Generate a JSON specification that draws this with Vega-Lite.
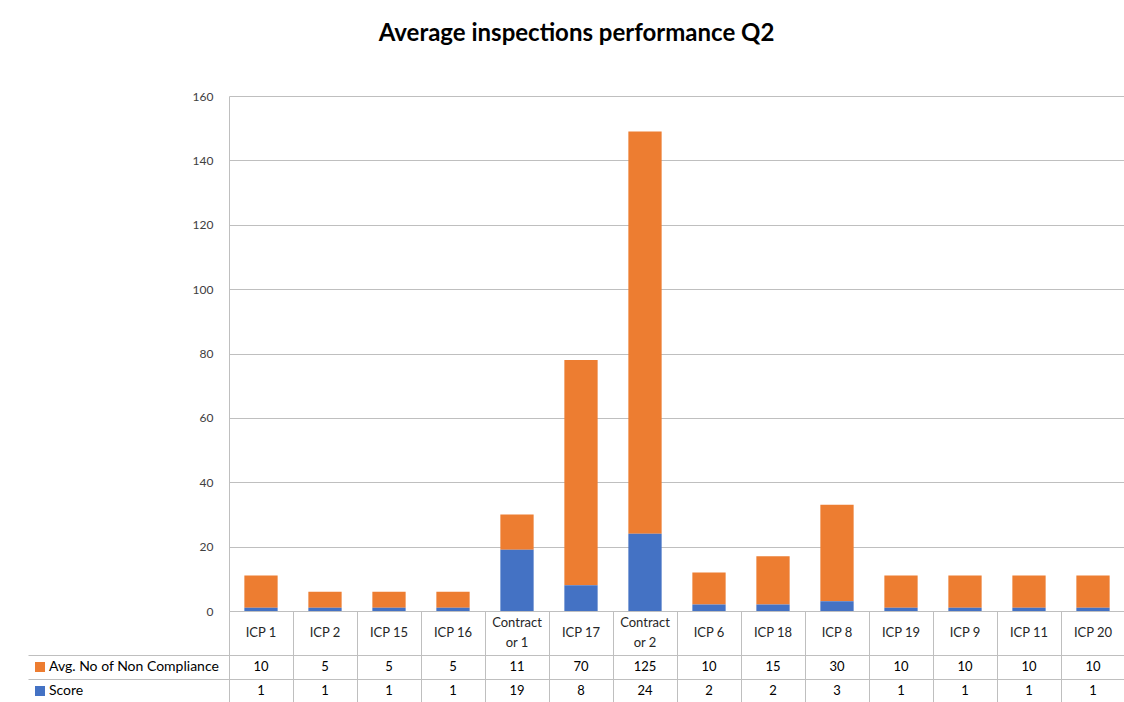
{
 "$schema": "https://vega.github.io/schema/vega-lite/v6.json",
 "padding": {"left": 27, "top": 22, "right": 0, "bottom": 0},
 "background": "white",
 "title": {"text": "Average inspections performance Q2", "fontSize": 24, "font": "Lato", "fontWeight": "bold", "color": "#000000", "anchor": "middle", "frame": "bounds", "offset": 44},
 "config": {"font": "Lato", "view": {"stroke": null}},
 "data": {"values": [
  {"cat": "ICP 1", "series": "Avg. No of Non Compliance", "value": 10},
  {"cat": "ICP 2", "series": "Avg. No of Non Compliance", "value": 5},
  {"cat": "ICP 15", "series": "Avg. No of Non Compliance", "value": 5},
  {"cat": "ICP 16", "series": "Avg. No of Non Compliance", "value": 5},
  {"cat": "Contractor 1", "series": "Avg. No of Non Compliance", "value": 11},
  {"cat": "ICP 17", "series": "Avg. No of Non Compliance", "value": 70},
  {"cat": "Contractor 2", "series": "Avg. No of Non Compliance", "value": 125},
  {"cat": "ICP 6", "series": "Avg. No of Non Compliance", "value": 10},
  {"cat": "ICP 18", "series": "Avg. No of Non Compliance", "value": 15},
  {"cat": "ICP 8", "series": "Avg. No of Non Compliance", "value": 30},
  {"cat": "ICP 19", "series": "Avg. No of Non Compliance", "value": 10},
  {"cat": "ICP 9", "series": "Avg. No of Non Compliance", "value": 10},
  {"cat": "ICP 11", "series": "Avg. No of Non Compliance", "value": 10},
  {"cat": "ICP 20", "series": "Avg. No of Non Compliance", "value": 10},
  {"cat": "ICP 1", "series": "Score", "value": 1},
  {"cat": "ICP 2", "series": "Score", "value": 1},
  {"cat": "ICP 15", "series": "Score", "value": 1},
  {"cat": "ICP 16", "series": "Score", "value": 1},
  {"cat": "Contractor 1", "series": "Score", "value": 19},
  {"cat": "ICP 17", "series": "Score", "value": 8},
  {"cat": "Contractor 2", "series": "Score", "value": 24},
  {"cat": "ICP 6", "series": "Score", "value": 2},
  {"cat": "ICP 18", "series": "Score", "value": 2},
  {"cat": "ICP 8", "series": "Score", "value": 3},
  {"cat": "ICP 19", "series": "Score", "value": 1},
  {"cat": "ICP 9", "series": "Score", "value": 1},
  {"cat": "ICP 11", "series": "Score", "value": 1},
  {"cat": "ICP 20", "series": "Score", "value": 1}
 ]},
 "width": 896,
 "height": 515,
 "encoding": {
  "x": {"field": "cat", "type": "nominal",
   "sort": ["ICP 1", "ICP 2", "ICP 15", "ICP 16", "Contractor 1", "ICP 17", "Contractor 2", "ICP 6", "ICP 18", "ICP 8", "ICP 19", "ICP 9", "ICP 11", "ICP 20"],
   "scale": {"paddingInner": 0, "paddingOuter": 0},
   "axis": {"title": null, "labels": false, "tickBand": "extent", "tickSize": 92, "tickColor": "#bfbfbf", "domainColor": "#bfbfbf"}}
 },
 "layer": [
  {
   "mark": {"type": "bar", "width": {"band": 0.52}},
   "encoding": {
    "y": {"field": "value", "type": "quantitative",
     "scale": {"domain": [0, 160], "nice": false},
     "axis": {"title": null, "values": [0, 20, 40, 60, 80, 100, 120, 140, 160], "grid": true, "gridColor": "#bfbfbf", "ticks": false, "domainColor": "#bfbfbf", "labelPadding": 16, "labelFontSize": 12, "labelColor": "#404040"}},
    "color": {"field": "series", "type": "nominal",
     "scale": {"domain": ["Avg. No of Non Compliance", "Score"], "range": ["#ED7D31", "#4472C4"]},
     "legend": {"orient": "none", "legendX": -201, "legendY": 559, "title": null, "symbolType": "square", "symbolSize": 100, "symbolStrokeWidth": 0, "labelFontSize": 14, "labelColor": "#000000", "rowPadding": 10, "padding": 5, "labelOffset": 2, "labelLimit": 0}}
   }
  },
  {
   "mark": {"type": "text", "fontSize": 13, "color": "#000000"},
   "encoding": {
    "y": {"field": "series", "type": "nominal", "sort": ["Avg. No of Non Compliance", "Score"],
     "scale": {"paddingInner": 0, "paddingOuter": 0, "range": [559, 607]},
     "axis": {"title": null, "orient": "left", "labels": false, "grid": true, "gridColor": "#bfbfbf", "tickBand": "extent", "ticks": true, "tickSize": 201, "tickColor": "#bfbfbf", "domain": false}},
    "text": {"field": "value", "type": "quantitative"}
   }
  },
  {
   "transform": [{"filter": "datum.series == 'Score'"}],
   "layer": [
    {
     "transform": [{"filter": "length(datum.cat) <= 10"}],
     "mark": {"type": "text", "fontSize": 13, "color": "#262626"},
     "encoding": {
      "y": {"datum": "b", "type": "nominal", "scale": {"type": "point", "domain": ["a", "b", "c"], "range": [527, 547], "padding": 0}, "axis": null},
      "text": {"field": "cat", "type": "nominal"}
     }
    },
    {
     "transform": [{"filter": "length(datum.cat) > 10"}, {"calculate": "substring(datum.cat, 0, 8)", "as": "line1"}],
     "mark": {"type": "text", "fontSize": 13, "color": "#262626"},
     "encoding": {
      "y": {"datum": "a", "type": "nominal", "scale": {"type": "point", "domain": ["a", "b", "c"], "range": [527, 547], "padding": 0}, "axis": null},
      "text": {"field": "line1", "type": "nominal"}
     }
    },
    {
     "transform": [{"filter": "length(datum.cat) > 10"}, {"calculate": "substring(datum.cat, 8)", "as": "line2"}],
     "mark": {"type": "text", "fontSize": 13, "color": "#262626"},
     "encoding": {
      "y": {"datum": "c", "type": "nominal", "scale": {"type": "point", "domain": ["a", "b", "c"], "range": [527, 547], "padding": 0}, "axis": null},
      "text": {"field": "line2", "type": "nominal"}
     }
    }
   ]
  }
 ],
 "resolve": {"scale": {"y": "independent"}, "axis": {"y": "independent"}}
}
